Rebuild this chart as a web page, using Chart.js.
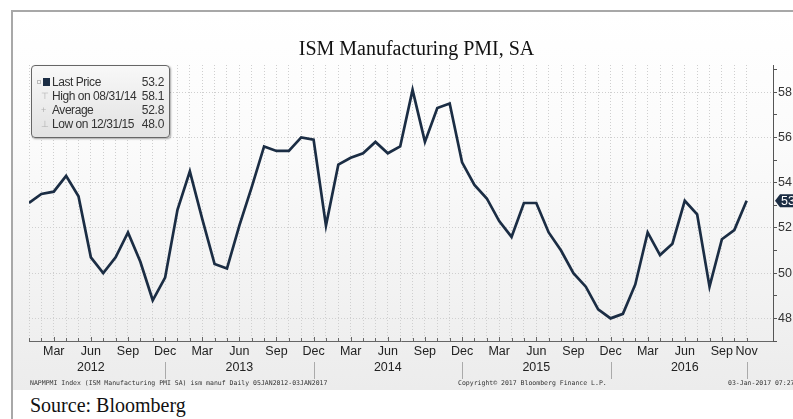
<!DOCTYPE html>
<html><head><meta charset="utf-8">
<script src="https://cdn.jsdelivr.net/npm/chart.js@4.4.1/dist/chart.umd.min.js"></script>
<style>
html,body{margin:0;padding:0;width:793px;height:419px;overflow:hidden;background:#fff;}
#frame{position:absolute;left:11px;top:10px;width:800px;height:420px;border-top:2px solid #a8a8a8;border-left:2px solid #a8a8a8;}
#bg{position:absolute;left:13px;top:12px;width:790px;height:378px;background:linear-gradient(#ffffff 0%,#fbfbfb 35%,#ececec 100%);}
#cv{position:absolute;left:13px;top:12px;}
#title{position:absolute;left:0;width:833px;top:37px;line-height:23px;text-align:center;font-family:"Liberation Serif",serif;font-size:20px;color:#111;}
#legend{position:absolute;left:31px;top:65px;width:139px;height:73px;box-sizing:border-box;border:1px solid #666;border-radius:4px;background:linear-gradient(#f8f8f8,#e2e2e2);box-shadow:1px 1px 2px rgba(0,0,0,0.35);font-family:"Liberation Sans",sans-serif;font-size:12px;color:#333;}
.row{position:absolute;left:0;right:0;height:14px;line-height:14px;}
.row .t{position:absolute;left:20px;letter-spacing:-0.45px;}
.row .v{position:absolute;right:5px;letter-spacing:-0.3px;}
.row .g{position:absolute;left:9px;color:#b0b0b0;font-size:9px;}
.sq{position:absolute;left:11px;top:3px;width:7px;height:8px;background:#1b2d44;}
.sq0{position:absolute;left:5px;top:5px;width:4px;height:4px;border:1px solid #bbb;box-sizing:border-box;}
.fn{position:absolute;top:379px;font-family:"DejaVu Sans Mono",monospace;font-size:6.5px;color:#333;white-space:nowrap;line-height:8px;}
#source{position:absolute;left:30px;top:394px;line-height:23px;font-family:"Liberation Serif",serif;font-size:20px;color:#111;}
</style></head>
<body>
<div id="bg"></div>
<div id="frame"></div>
<canvas id="cv" width="800" height="378"></canvas>
<div id="title">ISM Manufacturing PMI, SA</div>
<div id="legend">
  <div class="row" style="top:9px"><span class="sq0"></span><span class="sq"></span><span class="t">Last Price</span><span class="v">53.2</span></div>
  <div class="row" style="top:23px"><span class="g">⊤</span><span class="t">High on 08/31/14</span><span class="v">58.1</span></div>
  <div class="row" style="top:37px"><span class="g">+</span><span class="t">Average</span><span class="v">52.8</span></div>
  <div class="row" style="top:51px"><span class="g">⊥</span><span class="t">Low on 12/31/15</span><span class="v">48.0</span></div>
</div>
<div class="fn" style="left:30px">NAPMPMI Index (ISM Manufacturing PMI SA) ism manuf  Daily 05JAN2012-03JAN2017</div>
<div class="fn" style="left:458px">Copyright© 2017 Bloomberg Finance L.P.</div>
<div class="fn" style="left:728px">03-Jan-2017 07:27</div>
<div id="source">Source: Bloomberg</div>
<script>
// ---- data ----
const years = ['2012','2013','2014','2015','2016'];
const monthNames = ['Jan','Feb','Mar','Apr','May','Jun','Jul','Aug','Sep','Oct','Nov','Dec'];
const pmi2012 = [53.1,53.5,53.6,54.3,53.4,50.7,50.0,50.7,51.8,50.5,48.8,49.8];
const pmi2013 = [52.8,54.5,52.4,50.4,50.2,52.1,53.8,55.6,55.4,55.4,56.0,55.9];
const pmi2014 = [52.1,54.8,55.1,55.3,55.8,55.3,55.6,58.1,55.8,57.3,57.5,54.9];
const pmi2015 = [53.9,53.3,52.3,51.6,53.1,53.1,51.8,51.0,50.0,49.4,48.4,48.0];
const pmi2016 = [48.2,49.5,51.8,50.8,51.3,53.2,52.6,49.4,51.5,51.9,53.2];
const yTicks = [48,50,52,54,56,58];
const labelledMonths = ['Mar','Jun','Sep','Dec'];

const values = [].concat(pmi2012,pmi2013,pmi2014,pmi2015,pmi2016);
const categories = values.map((v,i)=>({m:monthNames[i%12], y:years[Math.floor(i/12)]}));
const lastIdx = values.length-1;

function tickLabel(i){
  const c = categories[i]; if(!c) return '';
  const show = labelledMonths.includes(c.m) || i===lastIdx;
  if(!show) return '';
  if(c.m==='Jun') return [c.m, c.y];
  return c.m;
}

const extras = {
  id:'extras',
  afterDraw(chart){
    const ctx = chart.ctx, xs = chart.scales.x, ys = chart.scales.y;
    const bottom = chart.chartArea.bottom;
    ctx.save();
    // month tick marks (inside)
    ctx.strokeStyle = '#666'; ctx.lineWidth = 1;
    for(let i=0;i<=lastIdx;i++){
      const x = Math.round(xs.getPixelForValue(i))+0.5;
      const q = labelledMonths.includes(categories[i].m);
      ctx.beginPath(); ctx.moveTo(x,bottom-(q?4:3)); ctx.lineTo(x,bottom); ctx.stroke();
    }
    // year separators
    ctx.strokeStyle = '#aaa';
    for(let i=0;i<=lastIdx;i++){
      if(categories[i].m==='Dec' || i===lastIdx){
        const x = Math.round(xs.getPixelForValue(i))+0.5;
        ctx.beginPath(); ctx.moveTo(x,bottom+21); ctx.lineTo(x,bottom+38); ctx.stroke();
      }
    }
    // last value marker
    const yv = ys.getPixelForValue(values[lastIdx]);
    const ax = ys.left+2;
    ctx.fillStyle = '#1b2d44';
    ctx.beginPath();
    ctx.moveTo(ax, yv);
    ctx.lineTo(ax+5, yv-6.5);
    ctx.lineTo(ax+40, yv-6.5);
    ctx.lineTo(ax+40, yv+6.5);
    ctx.lineTo(ax+5, yv+6.5);
    ctx.closePath(); ctx.fill();
    ctx.fillStyle = '#fff';
    ctx.font = '12.5px "Liberation Sans", sans-serif';
    ctx.textBaseline = 'middle'; ctx.textAlign = 'left';
    ctx.fillText(values[lastIdx].toFixed(1), ax+6, yv+0.5);
    ctx.restore();
  }
};

new Chart(document.getElementById('cv'), {
  type:'line',
  data:{ datasets:[{
    data: values.map((v,i)=>({x:i,y:v})),
    borderColor:'#1b2d44', borderWidth:2.7, pointRadius:0, tension:0, fill:false
  }]},
  options:{
    responsive:false, animation:false, devicePixelRatio:1,
    layout:{padding:{left:16,top:53,right:0,bottom:0}},
    plugins:{legend:{display:false},tooltip:{enabled:false}},
    scales:{
      x:{
        type:'linear', min:0, max:60.13,
        afterBuildTicks(s){ s.ticks = s.ticks.filter(t=>Number.isInteger(t.value) && t.value<=lastIdx); },
        afterFit(s){ s.height = 49; },
        ticks:{ stepSize:1, autoSkip:false, maxRotation:0, padding:3,
          callback:(v)=>tickLabel(v),
          font:{family:'"Liberation Sans", sans-serif', size:12.5, lineHeight:1.28}, color:'#222'},
        grid:{ color:'#cfcfcf', lineWidth:1, drawTicks:false },
        border:{ display:true, color:'#666', width:1, dash:[1,2] }
      },
      y:{
        position:'right', min:47, max:59.2,
        afterBuildTicks(s){ s.ticks = []; for(let v=47; v<=59; v++) s.ticks.push({value:v}); },
        afterFit(s){ s.width = 40; },
        ticks:{ padding:1, callback:(v)=> yTicks.includes(v) ? String(v) : '',
          font:{family:'"Liberation Sans", sans-serif', size:12.5}, color:'#333'},
        grid:{ color:(c)=> yTicks.includes(c.tick && c.tick.value) ? '#cfcfcf' : 'rgba(0,0,0,0)',
          tickColor:'#555', tickLength:4, drawTicks:true, lineWidth:1 },
        border:{ display:true, color:'#555', width:1, dash:[1,2] }
      }
    }
  },
  plugins:[extras]
});
</script>
</body></html>
